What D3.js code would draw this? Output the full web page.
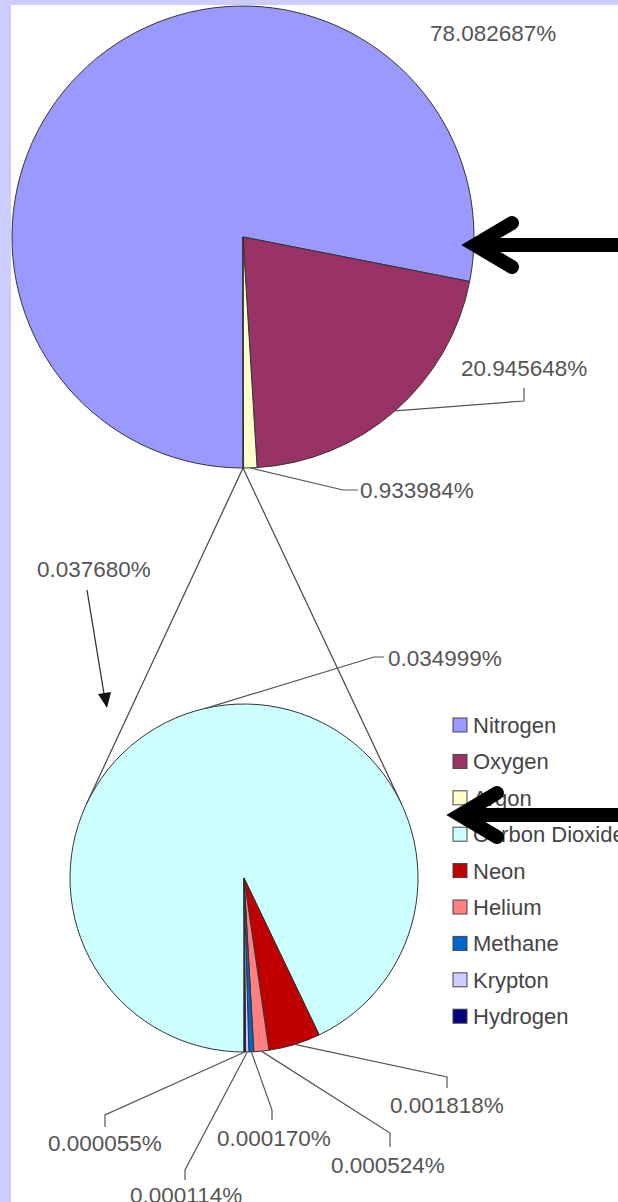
<!DOCTYPE html>
<html>
<head>
<meta charset="utf-8">
<script src="https://cdnjs.cloudflare.com/ajax/libs/d3/7.8.5/d3.min.js"></script>
<style>
body { margin: 0; background: #fff; }
svg { display: block; }
</style>
</head>
<body>
<div id="chart-area"></div>
<script>
// legend entries and their colours
var gases = ['Nitrogen', 'Oxygen', 'Argon', 'Carbon Dioxide', 'Neon', 'Helium', 'Methane', 'Krypton', 'Hydrogen'];
var gasColors = ['#9999ff', '#993366', '#ffffcc', '#ccffff', '#c00000', '#ff8080', '#0066cc', '#ccccff', '#000080'];

// main pie (percent of dry air), last slice = everything split out below
var mainNames = ['Nitrogen', 'Oxygen', 'Argon', 'Other'];
var mainValues = [78.082687, 20.945648, 0.933984, 0.037680];

// secondary pie
var traceNames = ['Carbon Dioxide', 'Neon', 'Helium', 'Methane', 'Krypton', 'Hydrogen'];
var traceValues = [0.034999, 0.001818, 0.000524, 0.000170, 0.000114, 0.000055];

var W = 618, H = 1202;
var font = '"Liberation Sans", Arial, sans-serif';

var mainPie = { cx: 243, cy: 237, r: 231 };
var subPie = { cx: 244, cy: 878, r: 174 };

// where each data label goes (leader elbow points + text anchor)
var mainLabelPos = [
    { text: [430, 33], leader: null },
    { text: [461, 368], leader: [[524, 401], [524, 388]] },
    { text: [360, 490], leader: [[343, 490], [358, 490]] },
    { text: [37, 569], leader: null }
];
var subLabelPos = [
    { text: [388, 658], leader: [[374, 657], [384, 657]] },
    { text: [390, 1105], leader: [[447, 1077], [447, 1088]] },
    { text: [331, 1165], leader: [[390, 1133], [390, 1147]] },
    { text: [217, 1138], leader: [[272, 1110], [272, 1120]] },
    { text: [130, 1195], leader: [[185, 1170], [185, 1180]] },
    { text: [48, 1143], leader: [[105, 1115], [105, 1127]] }
];

var color = d3.scaleOrdinal().domain(gases.concat(['Other'])).range(gasColors.concat(['#ffffff']));

var svg = d3.select('#chart-area')
    .append('svg')
    .attr('width', W)
    .attr('height', H);

svg.append('rect').attr('width', W).attr('height', H).attr('fill', '#ffffff');

var pie = d3.pie()
    .sort(null)
    .startAngle(Math.PI)
    .endAngle(3 * Math.PI);

function fmt(v) {
    return v.toFixed(6) + '%';
}

function drawPie(conf, names, values, positions) {
    var arcs = pie(values);
    var arc = d3.arc().innerRadius(0).outerRadius(conf.r);
    var edge = d3.arc().innerRadius(conf.r).outerRadius(conf.r);

    var g = svg.append('g')
        .attr('transform', 'translate(' + conf.cx + ',' + conf.cy + ')');

    g.selectAll('path.slice')
        .data(arcs)
        .enter()
        .append('path')
        .attr('class', 'slice')
        .attr('d', arc)
        .attr('fill', (d, i) => color(names[i]))
        .attr('stroke', '#333')
        .attr('stroke-width', 1)
        .attr('stroke-linejoin', 'round');

    arcs.forEach((d, i) => {
        var p = positions[i];
        if (p.leader) {
            var c = edge.centroid(d);
            var pts = [[conf.cx + c[0], conf.cy + c[1]]].concat(p.leader);
            svg.append('path')
                .attr('d', d3.line()(pts))
                .attr('fill', 'none')
                .attr('stroke', '#555')
                .attr('stroke-width', 1.2);
        }
        svg.append('text')
            .attr('x', p.text[0])
            .attr('y', p.text[1])
            .attr('dy', '0.36em')
            .attr('font-family', font)
            .attr('font-size', '22.5px')
            .attr('fill', '#555')
            .text(fmt(values[i]));
    });
}

// connector lines: from the bottom of the main pie, tangent to the secondary pie
(function () {
    var px = mainPie.cx, py = mainPie.cy + mainPie.r;
    var dx = subPie.cx - px, dy = subPie.cy - py;
    var d = Math.sqrt(dx * dx + dy * dy);
    var base = Math.atan2(dy, dx);
    var off = Math.asin(subPie.r / d);
    var len = Math.sqrt(d * d - subPie.r * subPie.r);
    [-1, 1].forEach(s => {
        var a = base + s * off;
        svg.append('line')
            .attr('x1', px).attr('y1', py)
            .attr('x2', px + len * Math.cos(a))
            .attr('y2', py + len * Math.sin(a))
            .attr('stroke', '#444')
            .attr('stroke-width', 1.2);
    });
})();

drawPie(mainPie, mainNames, mainValues, mainLabelPos);
drawPie(subPie, traceNames, traceValues, subLabelPos);

// small arrow from the "other" label down to the secondary pie
svg.append('line')
    .attr('x1', 87).attr('y1', 590)
    .attr('x2', 104.5).attr('y2', 697)
    .attr('stroke', '#333')
    .attr('stroke-width', 1.3);
svg.append('path')
    .attr('d', 'M98,694 L111,692 L107,708 Z')
    .attr('fill', '#111');

// legend
var legend = svg.append('g').attr('transform', 'translate(453,725)');
var rows = legend.selectAll('g')
    .data(gases)
    .enter()
    .append('g')
    .attr('transform', (d, i) => 'translate(0,' + (i * 36.4) + ')');
rows.append('rect')
    .attr('x', 0).attr('y', -7)
    .attr('width', 14).attr('height', 14)
    .attr('fill', d => color(d))
    .attr('stroke', '#444')
    .attr('stroke-width', 1);
rows.append('text')
    .attr('x', 20)
    .attr('dy', '0.36em')
    .attr('font-family', font)
    .attr('font-size', '22px')
    .attr('fill', '#444')
    .text(d => d);

// the two big black arrows
function bigArrow(tipX, tipY) {
    var g = svg.append('g')
        .attr('fill', 'none')
        .attr('stroke', '#000')
        .attr('stroke-width', 14);
    g.append('path')
        .attr('d', 'M' + (tipX + 12) + ',' + tipY + ' L' + W + ',' + tipY);
    g.append('path')
        .attr('d', 'M' + (tipX + 50) + ',' + (tipY - 22) + ' L' + (tipX + 13) + ',' + tipY +
            ' L' + (tipX + 50) + ',' + (tipY + 22))
        .attr('stroke-linecap', 'round')
        .attr('stroke-linejoin', 'miter')
        .attr('stroke-miterlimit', 10);
}
bigArrow(462, 245);
bigArrow(447, 815);

// lavender frame strips
svg.append('rect').attr('x', 0).attr('y', 0).attr('width', W).attr('height', 5).attr('fill', '#ccccff');
svg.append('rect').attr('x', 0).attr('y', 0).attr('width', 11).attr('height', H).attr('fill', '#ccccff');
</script>
</body>
</html>
